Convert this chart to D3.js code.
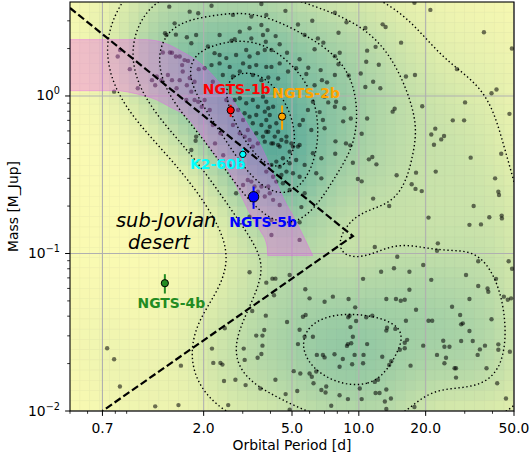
<!DOCTYPE html>
<html>
<head>
<meta charset="utf-8">
<script src="https://cdn.jsdelivr.net/npm/d3@7"></script>
<style>
  body { margin: 0; background: #fff; }
  svg { display: block; font-family: "DejaVu Sans", sans-serif; }
</style>
</head>
<body>
<svg id="chart" width="530" height="463"></svg>
<script>
// ---- Known planets: [orbital period (d), mass (M_Jup)] ----
const giantPlanets = [
  [7.8,3.38],[8.8,2.94],[8.1,2.52],[10.7,2.70],[12.8,2.85],[13.2,2.74],[21.0,3.52],[17.8,3.9],[36.6,2.54],[48.9,2.0],
  [15.5,2.18],[11.9,2.05],[10.9,1.94],[8.2,1.88],[7.8,1.79],[8.1,1.59],[10.8,1.65],[12.3,1.58],[9.0,1.35],[7.8,1.36],
  [10.2,1.39],[11.6,1.23],[10.7,1.14],[12.5,1.12],[16.3,1.33],[17.9,1.36],[27.7,1.48],[41.7,1.10],[39.6,1.04],[7.9,0.92],
  [7.8,0.855],[8.6,0.835],[8.5,0.69],[9.2,0.72],[10.9,0.72],[14.2,0.795],[14.5,0.83],[19.3,0.86],[30.1,0.91],[26.5,0.70],
  [29.8,0.70],[47.7,0.77],[22.1,0.62],[21.2,0.57],[24.2,0.557],[23.5,0.53],[21.8,0.49],[8.75,0.50],[9.15,0.486],[10.3,0.576],
  [7.85,0.515],[7.83,0.43],[11.5,0.41],[11.1,0.396],[12.0,0.368],[9.4,0.377],[31.9,0.406],[43.8,0.43],[14.8,0.314],[18.1,0.326],
  [22.2,0.331],[41.1,0.30],[17.3,0.275],[18.0,0.257],[19.2,0.249],[42.5,0.247],[42.8,0.235],[11.6,0.223],[9.9,0.297],[10.3,0.287],
  [4.67,3.47],[5.32,2.84],[6.17,3.0],[5.7,2.44],[6.54,2.32],[3.88,2.62],[4.22,2.40],[3.81,2.21],[4.40,2.13],[4.04,1.96],
  [4.75,1.88],[6.32,1.98],[6.92,2.18],[5.41,1.71],[5.22,1.50],[5.92,1.51],[6.73,1.46],[5.8,1.38],[4.40,1.61],[4.04,1.53],
  [3.91,1.31],[4.33,1.29],[4.80,1.43],[6.82,1.26],[6.32,1.17],[7.19,1.22],[7.0,0.99],[6.21,0.92],[7.28,0.91],[5.9,0.815],
  [6.66,0.79],[5.6,0.704],[6.89,0.704],[5.41,0.654],[6.11,0.608],[7.01,0.624],[3.91,0.835],[4.11,0.855],[3.97,0.757],[3.97,0.638],
  [4.25,0.671],[3.91,0.593],[4.33,0.593],[4.18,0.552],[4.48,0.526],[4.04,0.50],[4.40,0.477],[4.72,0.552],[4.97,0.50],[5.32,0.477],
  [2.17,3.74],[3.64,3.84],[2.71,3.27],[3.28,3.19],[3.83,3.27],[3.64,2.82],[3.22,2.69],[2.91,2.56],[2.67,2.24],[2.76,2.29],
  [2.36,2.44],[3.11,1.96],[2.80,1.82],[2.53,1.74],[2.36,1.82],[2.24,1.87],[2.09,2.06],[3.51,1.87],[3.77,1.96],[3.70,2.44],
  [3.28,2.32],[3.22,1.78],[3.01,1.61],[3.22,1.53],[3.45,1.57],[3.83,1.53],[2.62,1.53],[2.36,1.61],[2.17,1.57],[2.02,1.50],
  [2.91,1.43],[3.33,1.36],[3.64,1.26],[2.20,1.23],[2.71,1.33],[2.44,1.36],[2.76,0.943],[2.91,0.967],[3.11,0.90],[3.33,0.943],
  [3.51,0.855],[3.70,0.99],[3.83,0.92],[2.86,0.815],[3.06,0.777],[3.22,0.739],[3.45,0.757],[3.77,0.795],[3.01,0.704],[3.33,0.671],
  [3.64,0.654],[3.83,0.704],[3.16,0.608],[3.45,0.58],[3.70,0.552],[3.83,0.593],[3.22,0.526],[3.51,0.50],[3.77,0.513],[3.33,0.477],
  [2.13,0.815],[2.20,0.654],[2.71,0.654],[2.91,0.58],[3.06,0.552],[2.53,0.943],[2.02,0.943],
  [1.40,3.69],[1.48,2.89],[1.34,2.50],[1.36,2.44],[1.50,2.45],[1.68,2.36],[1.76,2.16],[1.85,2.44],[1.89,3.35],[1.73,3.43],
  [0.84,1.96],[0.82,1.78],[0.93,1.48],[0.79,1.065],[1.01,1.12],[1.17,1.26],[1.21,1.17],[1.29,1.26],[1.23,1.33],[1.41,1.89],
  [1.44,1.88],[1.31,1.89],[1.50,1.78],[1.56,1.78],[1.64,1.69],[1.60,1.57],[1.70,1.67],[1.38,1.36],[1.44,1.26],[1.56,1.26],
  [1.61,1.43],[1.73,1.30],[1.82,1.23],[1.90,1.48],[1.51,1.12],[1.68,1.17],[1.76,1.065],[1.82,0.943],[1.89,0.92],[1.67,0.943],
  [1.96,0.855],[1.85,0.552],[1.84,0.52],[1.76,0.454],
  [4.11,0.50],[4.33,0.489],[4.72,0.513],[5.05,0.477],[5.41,0.489],[4.88,0.443],[4.55,0.402],[4.25,0.383],[4.04,0.365],[4.40,0.356],
  [4.88,0.374],[5.22,0.392],[5.70,0.365],[6.21,0.433],[6.78,0.402],[3.83,0.331],[4.11,0.307],[4.25,0.286],[4.48,0.315],[4.72,0.331],
  [5.05,0.323],[5.41,0.307],[6.43,0.323],[6.78,0.30],[4.55,0.279],[4.88,0.253],[5.70,0.241],[3.97,0.241],[3.77,0.23],[4.11,0.219],
  [4.40,0.203],[3.28,0.286],[3.39,0.266],[3.64,0.266],[3.91,0.266],[3.51,0.247],[3.22,0.171],[4.04,0.163],[4.88,0.155],[5.41,0.158],
  [4.04,0.131],[5.41,0.122],[3.01,0.272],[3.16,0.293],[2.80,0.241],[2.25,0.50],[2.45,0.42],[2.62,0.36],[2.38,0.58],
  [5.51,0.197],[13.7,0.20],[32.9,0.20],[20.6,0.169],[31.5,0.152],[35.5,0.153],[38.7,0.17],[44.0,0.174],[44.1,0.167],[22.7,0.116],
  [22.5,0.104],[11.8,0.11]
];

const smallPlanets = [
  [0.735,0.025],[0.79,0.0213],[0.839,0.0143],[1.21,0.0107],[1.54,0.0109],[1.58,0.0194],[2.18,0.0249],[2.21,0.0202],[2.38,0.0202],[2.43,0.0197],
  [2.47,0.0155],[2.78,0.0158],[3.09,0.0146],[2.58,0.0109],[3.22,0.076],[3.31,0.0431],[3.81,0.0403],[3.45,0.0301],[3.68,0.0301],[3.75,0.0327],
  [3.68,0.026],[3.50,0.0218],[3.64,0.023],[3.03,0.0249],[3.06,0.0211],[3.60,0.0139],[3.83,0.0653],[4.08,0.0692],[4.21,0.0692],[4.15,0.0543],
  [4.75,0.0367],[4.88,0.073],[4.21,0.0158],[4.68,0.0128],[5.09,0.0179],[4.88,0.0102],[2.49,0.0335],
  [14.9,0.0954],[19.5,0.0845],[34.5,0.0892],[47.3,0.0892],[49.0,0.080],[41.5,0.069],[12.6,0.0766],[14.4,0.0805],[16.9,0.0766],[10.45,0.069],
  [21.2,0.068],[30.4,0.073],[5.74,0.0593],[7.64,0.0532],[6.0,0.0519],[7.01,0.0494],[8.99,0.0514],[13.3,0.0514],[14.7,0.0514],[15.45,0.0501],
  [16.1,0.0508],[16.9,0.0588],[31.5,0.0514],[34.5,0.0622],[38.0,0.060],[38.3,0.0572],[45.0,0.0532],[46.9,0.0508],[48.5,0.0519],[26.3,0.0459],
  [18.1,0.0439],[9.63,0.0455],[9.08,0.0403],[8.96,0.0394],[9.72,0.0373],[10.8,0.0394],[11.5,0.0403],[5.6,0.0397],[5.76,0.0407],[28.6,0.0407],
  [39.6,0.0382],[16.3,0.0374],[20.6,0.0374],[21.4,0.0374],[28.9,0.0355],[13.4,0.0338],[14.6,0.0332],[13.3,0.0324],[9.17,0.0341],[5.41,0.0328],
  [5.70,0.0296],[6.21,0.0296],[5.32,0.0266],[6.47,0.0227],[6.89,0.0227],[7.01,0.0219],[7.77,0.0229],[8.47,0.0214],[8.93,0.0266],[9.40,0.0296],
  [9.24,0.0269],[8.84,0.0259],[9.57,0.0227],[10.5,0.0227],[10.9,0.0266],[10.45,0.0201],[9.33,0.0198],[8.19,0.0191],[12.75,0.0221],[13.7,0.0196],
  [14.0,0.0207],[15.3,0.0245],[16.1,0.0271],[16.1,0.025],[16.5,0.0283],[17.1,0.0194],[19.5,0.026],[22.5,0.0227],[24.0,0.0279],[24.3,0.0256],
  [25.6,0.0256],[24.7,0.0218],[24.3,0.0201],[27.0,0.0187],[27.4,0.0187],[27.4,0.0163],[28.9,0.0278],[29.4,0.036],[31.5,0.0322],[32.6,0.0278],
  [34.3,0.0227],[35.1,0.0246],[37.0,0.026],[42.5,0.0265],[42.5,0.0245],[47.9,0.0238],[37.6,0.0187],[6.0,0.0173],[6.14,0.0165],[6.25,0.015],
  [6.43,0.0178],[5.45,0.0173],[5.28,0.0134],[6.78,0.0136],[7.13,0.0143],[7.08,0.0131],[8.19,0.0126],[10.1,0.0139],[10.3,0.0119],[11.9,0.013],
  [12.4,0.013],[12.2,0.0158],[11.8,0.0153],[13.3,0.0137],[13.1,0.0115],[13.95,0.012],[13.3,0.0103],[17.8,0.0106],[7.51,0.0108],[8.93,0.0119],
  [42.0,0.015],[46.0,0.012]
];

// ---- Highlighted planets ----
const planetNames  = ["NGTS-1b", "NGTS-2b", "K2-60b", "NGTS-5b", "NGTS-4b"];
const planetPeriod = [2.647, 4.511, 3.0027, 3.357, 1.3374];
const planetMass   = [0.812, 0.74, 0.426, 0.229, 0.0648];
const planetErrLo  = [0.075, 0.13, 0.037, 0.037, 0.0091];
const planetErrHi  = [0.066, 0.13, 0.037, 0.037, 0.0091];

// ---- Sub-Jovian desert boundary: [period, mass] ----
const desertBoundary = [[0.5, 3.62], [9.4, 0.129], [0.70, 0.01]];

// ---- Ridge band edges: [period, mass] ----
const bandUpper = [[0.5,2.28],[1.1,2.28],[1.41,2.1],[1.61,1.9],[1.85,1.69],[2.05,1.5],[2.30,1.26],[2.71,0.943],
                   [3.13,0.674],[3.70,0.454],[4.10,0.324],[4.55,0.228],[5.26,0.156],[6.2,0.097]];
const bandLower = [[0.5,1.08],[0.8,1.08],[1.0,1.03],[1.23,0.943],[1.41,0.851],[1.68,0.736],[1.92,0.582],[2.21,0.434],
                   [2.62,0.324],[2.91,0.242],[3.22,0.181],[3.58,0.141],[3.85,0.113],[3.89,0.097]];

// ---- Axis ticks ----
const xTickValues = [0.7, 2, 5, 10, 20, 50];
const xTickLabels = ["0.7", "2.0", "5.0", "10.0", "20.0", "50.0"];
const yTickValues = [0.01, 0.1, 1];
const yTickExponents = ["\u22122", "\u22121", "0"];

// ---------------------------------------------------------------------------
const svg = d3.select("#chart");
const plot = { left: 70, right: 514, top: 2, bottom: 411 };
const x = d3.scaleLog().domain([0.5, 50]).range([plot.left, plot.right]);
const y = d3.scaleLog().domain([0.01, 3.95]).range([plot.bottom, plot.top]);

svg.append("defs").append("clipPath").attr("id", "plotClip")
  .append("rect")
  .attr("x", plot.left).attr("y", plot.top)
  .attr("width", plot.right - plot.left).attr("height", plot.bottom - plot.top);

// ---- Gaussian KDE in log-log space (sample covariance, Scott bandwidth) ----
const catalogue = giantPlanets.concat(smallPlanets);
const U = catalogue.map(d => Math.log10(d[0]));
const V = catalogue.map(d => Math.log10(d[1]));
const n = U.length;
const mu = d3.mean(U), mv = d3.mean(V);
let suu = 0, svv = 0, suv = 0;
for (let i = 0; i < n; i++) {
  const a = U[i] - mu, b = V[i] - mv;
  suu += a * a; svv += b * b; suv += a * b;
}
suu /= (n - 1); svv /= (n - 1); suv /= (n - 1);
const bw = Math.pow(n, -1 / 6);
const kuu = suu * bw * bw, kvv = svv * bw * bw, kuv = suv * bw * bw;
const det = kuu * kvv - kuv * kuv;
const iuu = kvv / det, ivv = kuu / det, iuv = -kuv / det;

function density(px, py) {
  const u = Math.log10(x.invert(px)), v = Math.log10(y.invert(py));
  let s = 0;
  for (let i = 0; i < n; i++) {
    const a = u - U[i], b = v - V[i];
    s += Math.exp(-0.5 * (a * a * iuu + 2 * a * b * iuv + b * b * ivv));
  }
  return s;
}

// fine grid for contour lines (extends beyond the axes so rings close outside)
const step = 3, gx0 = 40, gy0 = -28;
const gw = Math.ceil((544 - gx0) / step) + 1, gh = Math.ceil((441 - gy0) / step) + 1;
const grid = new Float64Array(gw * gh);
for (let j = 0; j < gh; j++)
  for (let i = 0; i < gw; i++)
    grid[j * gw + i] = density(gx0 + i * step, gy0 + j * step);
const dmax = d3.max(grid);

// ---- Density heatmap ----
const nx = 45, ny = 40;
const cw = (plot.right - plot.left) / nx, ch = (plot.bottom - plot.top) / ny;
const heatColor = d3.scaleLinear()
  .domain([0, 0.05, 0.14, 0.3, 0.52, 0.78, 1])
  .range(["#fafab2", "#eef4b0", "#d8eaab", "#b6d9a8", "#92c8a3", "#6db59d", "#58a898"])
  .clamp(true);
const cells = [];
for (let j = 0; j < ny; j++)
  for (let i = 0; i < nx; i++) {
    const cx = plot.left + (i + 0.5) * cw, cy = plot.top + (j + 0.5) * ch;
    cells.push({ i, j, t: density(cx, cy) / dmax });
  }
const heat = svg.append("g").attr("clip-path", "url(#plotClip)");
heat.selectAll("rect").data(cells).join("rect")
  .attr("x", d => plot.left + d.i * cw)
  .attr("y", d => plot.top + d.j * ch)
  .attr("width", cw).attr("height", ch)
  .attr("fill", d => heatColor(d.t))
  .attr("stroke", d => d3.color(heatColor(d.t)).darker(0.12))
  .attr("stroke-width", 0.6);

// ---- Grid lines ----
const gridG = svg.append("g").attr("stroke", "#b0b0b0").attr("stroke-width", 1.1);
gridG.selectAll("line.gx").data(xTickValues).join("line")
  .attr("x1", d => x(d)).attr("x2", d => x(d))
  .attr("y1", plot.top).attr("y2", plot.bottom);
gridG.selectAll("line.gy").data(yTickValues).join("line")
  .attr("y1", d => y(d)).attr("y2", d => y(d))
  .attr("x1", plot.left).attr("x2", plot.right);

// ---- Catalogue planets ----
svg.append("g").attr("clip-path", "url(#plotClip)")
  .selectAll("circle").data(catalogue).join("circle")
  .attr("cx", d => x(d[0])).attr("cy", d => y(d[1]))
  .attr("r", 2.2).attr("fill", "#000").attr("fill-opacity", 0.55);

// ---- Ridge band ----
const edge = d3.line().x(d => x(d[0])).y(d => y(d[1])).curve(d3.curveMonotoneX);
const upperPath = edge(bandUpper);
const lowerPath = edge(bandLower.slice().reverse());
svg.append("path").attr("clip-path", "url(#plotClip)")
  .attr("d", upperPath + "L" + lowerPath.slice(1) + "Z")
  .attr("fill", "rgb(236,80,245)").attr("fill-opacity", 0.33)
  .attr("stroke", "rgb(236,80,245)").attr("stroke-opacity", 0.35).attr("stroke-width", 1);

// ---- Density contours (dotted) ----
const levels = [0.11, 0.24, 0.44, 0.66, 0.86].map(f => f * dmax);
const contours = d3.contours().size([gw, gh]).thresholds(levels)(grid);
const toPixels = d3.geoTransform({
  point(cx, cy) { this.stream.point(gx0 + (cx - 0.5) * step, gy0 + (cy - 0.5) * step); }
});
svg.append("g").attr("clip-path", "url(#plotClip)")
  .selectAll("path").data(contours).join("path")
  .attr("d", d3.geoPath(toPixels))
  .attr("fill", "none").attr("stroke", "#000").attr("stroke-width", 1.4)
  .attr("stroke-dasharray", "1.4,2.6");

// ---- Sub-Jovian desert boundary ----
svg.append("path").attr("clip-path", "url(#plotClip)")
  .attr("d", d3.line().x(d => x(d[0])).y(d => y(d[1])).curve(d3.curveLinear)(desertBoundary))
  .attr("fill", "none").attr("stroke", "#000").attr("stroke-width", 2.2)
  .attr("stroke-dasharray", "7.4,3.2");

// ---- Highlighted planets ----
const planetStyle = [
  { color: "red",         r: 3.6, dx: 6,     dy: -16 },
  { color: "orange",      r: 3.6, dx: 24,    dy: -19 },
  { color: "cyan",        r: 3.2, dx: -25,   dy: 15 },
  { color: "blue",        r: 5.2, dx: 9.5,   dy: 30 },
  { color: "forestgreen", r: 3.6, dx: 6.5,   dy: 25 }
];
const planets = planetNames.map((name, k) => ({
  name, P: planetPeriod[k], M: planetMass[k],
  lo: planetMass[k] - planetErrLo[k], hi: planetMass[k] + planetErrHi[k], s: planetStyle[k]
}));
const pg = svg.append("g");
pg.selectAll("line").data(planets).join("line")
  .attr("x1", d => x(d.P)).attr("x2", d => x(d.P))
  .attr("y1", d => y(d.lo)).attr("y2", d => y(d.hi))
  .attr("stroke", d => d.s.color).attr("stroke-width", 2);
pg.selectAll("circle").data(planets).join("circle")
  .attr("cx", d => x(d.P)).attr("cy", d => y(d.M)).attr("r", d => d.s.r)
  .attr("fill", d => d.s.color).attr("stroke", "#000").attr("stroke-width", 1);
pg.selectAll("text").data(planets).join("text")
  .attr("x", d => x(d.P) + d.s.dx).attr("y", d => y(d.M) + d.s.dy)
  .attr("text-anchor", "middle").attr("font-weight", "bold").attr("font-size", 13.9)
  .attr("fill", d => d.s.color).text(d => d.name);

// ---- Region annotation ----
const note = svg.append("g").attr("font-size", 19.4).attr("font-style", "italic").attr("fill", "#000");
note.append("text").attr("x", 116).attr("y", 227).text("sub-Jovian");
note.append("text").attr("x", 128).attr("y", 249).text("desert");

// ---- Frame ----
svg.append("rect")
  .attr("x", plot.left).attr("y", plot.top)
  .attr("width", plot.right - plot.left).attr("height", plot.bottom - plot.top)
  .attr("fill", "none").attr("stroke", "#000").attr("stroke-width", 1.1);

// ---- Ticks ----
const minorVals = [];
for (const e of [-3, -2, -1, 0, 1]) for (let k = 2; k <= 9; k++) minorVals.push(k * Math.pow(10, e));
const xMinor = minorVals.filter(v => v >= 0.5 - 1e-9 && v <= 50 + 1e-9 && !xTickValues.some(t => Math.abs(t - v) < 1e-9));
const yMinor = minorVals.filter(v => v >= 0.01 && v <= 3.95);
const ticks = svg.append("g").attr("stroke", "#000").attr("stroke-width", 1);
ticks.selectAll("line.xM").data(xTickValues).join("line")
  .attr("x1", d => x(d)).attr("x2", d => x(d)).attr("y1", plot.bottom).attr("y2", plot.bottom + 4.9);
ticks.selectAll("line.xm").data(xMinor).join("line").attr("class", "xm")
  .attr("x1", d => x(d)).attr("x2", d => x(d)).attr("y1", plot.bottom).attr("y2", plot.bottom + 2.8)
  .attr("stroke-width", 0.8);
ticks.selectAll("line.yM").data(yTickValues).join("line").attr("class", "yM")
  .attr("y1", d => y(d)).attr("y2", d => y(d)).attr("x1", plot.left - 4.9).attr("x2", plot.left);
ticks.selectAll("line.ym").data(yMinor).join("line").attr("class", "ym")
  .attr("y1", d => y(d)).attr("y2", d => y(d)).attr("x1", plot.left - 2.8).attr("x2", plot.left)
  .attr("stroke-width", 0.8);

const labels = svg.append("g").attr("font-size", 13.9).attr("fill", "#000");
labels.selectAll("text.xt").data(xTickValues).join("text").attr("class", "xt")
  .attr("x", d => x(d)).attr("y", 433).attr("text-anchor", "middle")
  .text((d, i) => xTickLabels[i]);
const yt = labels.selectAll("text.yt").data(yTickValues).join("text").attr("class", "yt")
  .attr("x", 60).attr("y", d => y(d) + 4.5).attr("text-anchor", "end");
yt.append("tspan").text("10");
yt.append("tspan").attr("dy", -6).attr("font-size", 9.7).text((d, i) => yTickExponents[i]);

labels.append("text").attr("x", (plot.left + plot.right) / 2).attr("y", 450)
  .attr("text-anchor", "middle").text("Orbital Period [d]");
labels.append("text").attr("transform", `translate(18,${(plot.top + plot.bottom) / 2}) rotate(-90)`)
  .attr("text-anchor", "middle").text("Mass [M_Jup]");
</script>
</body>
</html>
